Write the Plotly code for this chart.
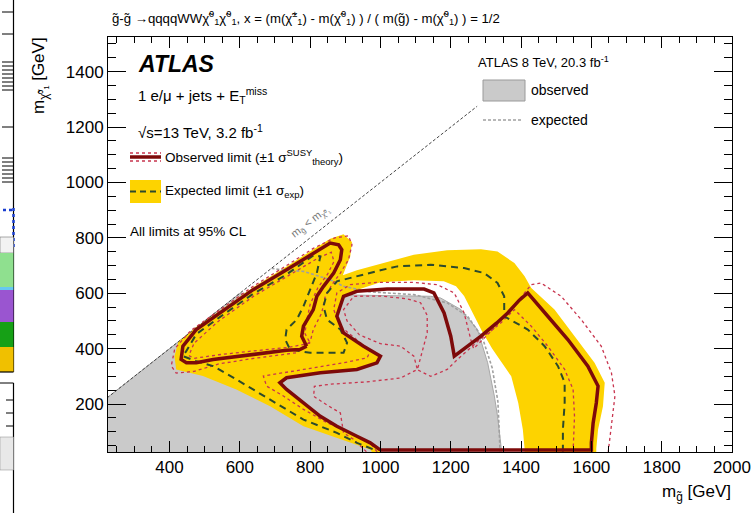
import plotly.graph_objects as go

# ---------------- data (GeV) ----------------
# ATLAS 8 TeV observed excluded region
atlas8_obs_x = [200, 200, 600, 700, 900, 1050, 1143, 1171, 1229, 1276, 1305, 1324, 1333, 1343, 1345]
atlas8_obs_y = [0, 200, 600, 598, 595, 592, 589, 583, 541, 469, 349, 229, 156, 48, 0]
# ATLAS 8 TeV expected limit
atlas8_exp_x = [690, 714, 781, 857, 895, 971, 1095, 1190, 1248, 1290, 1318, 1334, 1338, 1340]
atlas8_exp_y = [690, 685, 679, 649, 625, 605, 595, 565, 517, 440, 330, 210, 100, 28]

# expected +1 sigma (outer edge of band)
band_outer_x = [425, 476, 543, 638, 733, 809, 857, 895, 919, 914, 900, 893, 933, 1019, 1095, 1190, 1286,
                1333, 1381, 1410, 1429, 1495, 1552, 1609, 1638, 1633, 1619, 1614, 1614, 990, 971, 876,
                781, 686, 590, 495, 419, 414]
band_outer_y = [425, 478, 537, 622, 697, 757, 797, 813, 785, 733, 690, 665, 683, 713, 739, 755, 759,
                751, 709, 661, 619, 541, 445, 349, 277, 192, 108, 40, 0, 0, 36, 78,
                120, 192, 253, 301, 325, 373]
# expected -1 sigma (inner edge of band)
band_inner_x = [1000, 1000, 971, 933, 876, 829, 781, 733, 714, 733, 829, 933, 990, 1000, 952, 895, 876,
                895, 933, 1000, 1095, 1180, 1215, 1238, 1262, 1290, 1318, 1345, 1372, 1392, 1405, 1410, 1410]
band_inner_y = [0, 36, 60, 84, 120, 156, 205, 253, 277, 295, 313, 325, 349, 373, 409, 457, 517,
                589, 612, 640, 647, 643, 625, 590, 530, 460, 400, 350, 300, 204, 108, 40, 0]

# expected limit
exp_x = [1519, 1519, 1524, 1524, 1505, 1467, 1419, 1371, 1352, 1352, 1333, 1295, 1238, 1143, 1048, 1000,
         933, 876, 848, 838, 848, 886, 905, 895, 800, 743, 729, 733, 762, 781, 800, 819, 829,
         810, 733, 638, 543, 476, 448, 438, 476, 524, 590, 686, 781, 876, 933, 981, 990]
exp_y = [28, 108, 204, 277, 337, 409, 469, 505, 517, 589, 637, 673, 691, 703, 697, 683,
         661, 643, 601, 553, 505, 469, 421, 385, 385, 397, 433, 469, 505, 553, 613, 673, 733,
         737, 668, 598, 514, 452, 392, 373, 355, 337, 289, 217, 144, 96, 60, 36, 28]

# observed limit: main contour
obs_main_x = [1000, 971, 933, 876, 829, 781, 733, 714, 733, 829, 933, 990, 1000, 952, 895, 876, 895,
              933, 1019, 1124, 1152, 1181, 1200, 1210, 1250, 1286, 1330, 1362, 1395, 1419, 1476, 1533,
              1590, 1619, 1614, 1605, 1600, 1600, 1300, 1000]
obs_main_y = [34, 60, 84, 120, 156, 205, 253, 277, 295, 313, 325, 349, 373, 409, 457, 517, 589,
              607, 615, 615, 601, 529, 445, 373, 410, 445, 492, 529, 575, 601, 517, 433,
              337, 265, 204, 132, 60, 34, 34, 34]
# observed limit: left lobe
obs_lobe_x = [790, 771, 733, 686, 638, 590, 524, 476, 448, 433, 438, 476, 543, 638, 733, 809, 857, 881,
              890, 886, 867, 838, 819, 809, 781, 776, 790]
obs_lobe_y = [409, 397, 394, 387, 379, 373, 361, 349, 349, 361, 409, 469, 529, 613, 685, 745, 781, 775,
              757, 721, 673, 625, 589, 541, 481, 445, 409]

# observed +1 sigma theory
obs_up_main_x = [990, 971, 914, 848, 781, 724, 676, 667, 781, 895, 962, 971, 943, 886, 867, 876, 914, 990,
                 1095, 1162, 1210, 1238, 1257, 1265, 1320, 1390, 1429, 1457, 1514, 1571, 1628, 1657,
                 1667, 1657, 1648, 1648]
obs_up_main_y = [28, 60, 96, 133, 181, 229, 265, 301, 325, 349, 367, 391, 421, 481, 541, 601, 631, 639,
                 639, 631, 601, 529, 433, 400, 470, 570, 631, 637, 589, 505, 409, 313,
                 229, 132, 36, 28]
obs_up_lobe_x = [800, 760, 640, 540, 470, 419, 405, 415, 460, 543, 638, 733, 809, 870, 909, 919, 909,
                 886, 862, 843, 833, 809, 800]
obs_up_lobe_y = [425, 385, 365, 345, 318, 312, 338, 400, 465, 540, 625, 700, 762, 800, 807, 775, 721,
                 673, 631, 589, 529, 469, 425]
# observed -1 sigma theory
obs_dn_main_x = [960, 924, 895, 886, 850, 810, 812, 860, 960, 1057, 1105, 1095, 1057, 1000, 940, 905, 895,
                 924, 1000, 1076, 1114, 1133, 1133, 1114, 1105, 1143, 1190, 1219, 1280, 1340, 1381,
                 1429, 1476, 1524, 1548, 1552, 1548, 1548]
obs_dn_main_y = [28, 72, 96, 168, 195, 228, 264, 272, 280, 294, 325, 373, 409, 418, 450, 500, 541,
                 589, 590, 580, 566, 520, 457, 372, 324, 300, 325, 361, 430, 490, 541,
                 481, 409, 325, 253, 156, 36, 28]
obs_dn_lobe_x = [800, 740, 640, 540, 470, 455, 470, 540, 640, 740, 820, 860, 868, 850, 822, 800, 790,
                 785, 800]
obs_dn_lobe_y = [420, 405, 392, 378, 365, 375, 420, 500, 590, 665, 725, 748, 715, 670, 620, 560, 500,
                 455, 420]

# kinematic boundary m(gluino) = m(LSP)
diag_x = [200, 1275]
diag_y = [200, 1275]

x_ticks = [400, 600, 800, 1000, 1200, 1400, 1600, 1800, 2000]
y_ticks = [200, 400, 600, 800, 1000, 1200, 1400]

# ---------------- styles ----------------
YELLOW = "#fdd300"
DARKRED = "#7d0a0a"
PINK = "#c8344e"
EXPCOL = "#2c4a2c"
GREYFILL = "#cacaca"
FONT = "Liberation Sans, Arial, Helvetica, sans-serif"

fig = go.Figure()

fig.add_trace(go.Scatter(x=atlas8_obs_x, y=atlas8_obs_y, mode="lines", fill="toself",
                         fillcolor=GREYFILL, line=dict(color="#a8a8a8", width=1), hoverinfo="skip"))
# band with hole: outer ring, then inner ring in opposite direction
bx = band_outer_x + [band_outer_x[0], None] + band_inner_x[::-1] + [band_inner_x[-1]]
by = band_outer_y + [band_outer_y[0], None] + band_inner_y[::-1] + [band_inner_y[-1]]
fig.add_trace(go.Scatter(x=bx, y=by, mode="lines", fill="toself", fillcolor=YELLOW,
                         line=dict(width=0, color=YELLOW), hoverinfo="skip"))
fig.add_trace(go.Scatter(x=atlas8_exp_x, y=atlas8_exp_y, mode="lines",
                         line=dict(color="#a0a0a0", width=1.6, dash="3px,2px"), hoverinfo="skip"))
fig.add_trace(go.Scatter(x=diag_x, y=diag_y, mode="lines",
                         line=dict(color="#444444", width=1, dash="3px,2px"), hoverinfo="skip"))
for xs, ys in [(obs_up_main_x, obs_up_main_y), (obs_up_lobe_x, obs_up_lobe_y),
               (obs_dn_main_x, obs_dn_main_y), (obs_dn_lobe_x, obs_dn_lobe_y)]:
    fig.add_trace(go.Scatter(x=xs, y=ys, mode="lines",
                             line=dict(color=PINK, width=1.3, dash="dot"), hoverinfo="skip"))
fig.add_trace(go.Scatter(x=exp_x, y=exp_y, mode="lines",
                         line=dict(color=EXPCOL, width=2, dash="7px,5px"), hoverinfo="skip"))
for xs, ys in [(obs_main_x, obs_main_y), (obs_lobe_x, obs_lobe_y)]:
    fig.add_trace(go.Scatter(x=xs, y=ys, mode="lines",
                             line=dict(color=DARKRED, width=3.5), hoverinfo="skip"))

L, T, W, H = 108, 37, 624, 415


def px(xp):
    return (xp - L) / W


def py(yp):
    return (T + H - yp) / H


ann = []


def text(xp, yp, s, size, anchor="left", color="black", angle=0):
    ann.append(dict(x=px(xp), y=py(yp), xref="paper", yref="paper", text=s, showarrow=False,
                    xanchor=anchor, yanchor="middle", textangle=angle, borderpad=0,
                    font=dict(family=FONT, size=size, color=color)))


text(111, 18, "g̃-g̃ →qqqqWWχ̃<sup>0</sup><sub>1</sub>χ̃<sup>0</sup><sub>1</sub>, x = (m(χ̃<sup>±</sup><sub>1</sub>) - "
     "m(χ̃<sup>0</sup><sub>1</sub>) ) / ( m(g̃) - m(χ̃<sup>0</sup><sub>1</sub>) ) = 1/2", 13.2)
text(137, 64, "<b><i>ATLAS</i></b>", 23)
text(137, 96, "1 e/μ + jets + E<sub>T</sub><sup>miss</sup>", 15)
text(137, 131, "√s=13 TeV, 3.2 fb<sup>-1</sup>", 15)
text(164, 157, "Observed limit (±1 σ<sup>SUSY</sup><sub>theory</sub>)", 13.5)
text(164, 191, "Expected limit (±1 σ<sub>exp</sub>)", 13.5)
text(129, 232, "All limits at 95% CL", 13.5)
text(477, 62, "ATLAS 8 TeV, 20.3 fb<sup>-1</sup>", 13)
text(530, 90, "observed", 14)
text(530, 120, "expected", 14)
text(310, 222, "m<sub>g̃</sub> < m<sub>χ̃⁰₁</sub>", 11, anchor="center", color="#777777", angle=-38)
text(732, 493, "m<sub>g̃</sub> [GeV]", 17, anchor="right")
ann.append(dict(x=px(40), y=py(76), xref="paper", yref="paper", text="m<sub>χ̃⁰₁</sub> [GeV]",
                showarrow=False, xanchor="center", yanchor="middle", textangle=-90,
                font=dict(family=FONT, size=17, color="black")))

shapes = []


def pline(x0, y0, x1, y1, color, width, dash="solid"):
    shapes.append(dict(type="line", xref="paper", yref="paper", x0=px(x0), y0=py(y0), x1=px(x1), y1=py(y1),
                       line=dict(color=color, width=width, dash=dash)))


def prect(x0, y0, x1, y1, fill, color, width=0):
    shapes.append(dict(type="rect", xref="paper", yref="paper", x0=px(x0), y0=py(y0), x1=px(x1), y1=py(y1),
                       fillcolor=fill, line=dict(color=color, width=width)))


# legend symbols
pline(130, 153, 161, 153, PINK, 1.3, "dot")
pline(130, 161, 161, 161, PINK, 1.3, "dot")
pline(130, 157, 161, 157, DARKRED, 3.5)
prect(130, 180, 161, 203, YELLOW, YELLOW)
pline(130, 191.5, 161, 191.5, EXPCOL, 2, "6px,4px")
prect(483, 80, 525, 101, GREYFILL, "#9a9a9a", 1)
pline(483, 120, 523, 120, "#a0a0a0", 1.5, "3px,2px")

# fragment of the neighbouring panel cut at the left edge of the image
pline(13.5, 0, 13.5, 372, "black", 1.2)
for yy in [12, 34, 62, 66, 70, 74, 78, 82, 86, 90, 127, 158, 162, 166, 170, 174, 178, 182]:
    pline(2, yy, 13.5, yy, "black", 1)
pline(13.5, 208, 13.5, 250, "#1a3fd0", 2.5, "dot")
pline(3, 210, 13.5, 210, "#1a3fd0", 2.5, "dot")
prect(0, 237, 13.5, 253, "#f2f2f2", "#555555", 0.5)
prect(0, 253, 13.5, 287, "#8fe08f", "black", 0)
prect(0, 287, 13.5, 290, "#66c8f0", "black", 0)
prect(0, 290, 13.5, 322, "#9a55d0", "black", 0)
prect(0, 322, 13.5, 347, "#16a016", "black", 0)
prect(0, 347, 13.5, 372, "#f0c000", "black", 0)
pline(0, 372, 13.5, 372, "black", 1.2)
pline(13.5, 383, 13.5, 513, "black", 1.2)
pline(0, 383, 13.5, 383, "black", 1)
for yy in [400, 413, 426, 454]:
    pline(6, yy, 13.5, yy, "black", 1)
prect(0, 437, 13.5, 470, "#e8e8e8", "#888888", 0.5)

axis_common = dict(showgrid=False, zeroline=False, showline=True, linecolor="black", linewidth=1,
                   mirror="ticks", ticks="inside", tickcolor="black", tickwidth=1, automargin=False,
                   tickfont=dict(family=FONT, size=17, color="black"))

fig.update_layout(
    width=753, height=513,
    margin=dict(l=L, r=753 - L - W, t=T, b=513 - T - H, pad=0),
    paper_bgcolor="white", plot_bgcolor="white", showlegend=False,
    annotations=ann, shapes=shapes,
    xaxis=dict(range=[225, 2000], tickvals=x_ticks, ticklen=11,
               minor=dict(dtick=50, tick0=0, ticks="inside", ticklen=6, tickcolor="black"),
               **axis_common),
    yaxis=dict(range=[27, 1525], tickvals=y_ticks, ticklen=18,
               minor=dict(dtick=50, tick0=0, ticks="inside", ticklen=8, tickcolor="black"),
               **axis_common),
)

fig.write_html("out.html", config={"displayModeBar": False},
               post_script="document.body.style.margin='0';document.body.style.overflow='hidden';")
